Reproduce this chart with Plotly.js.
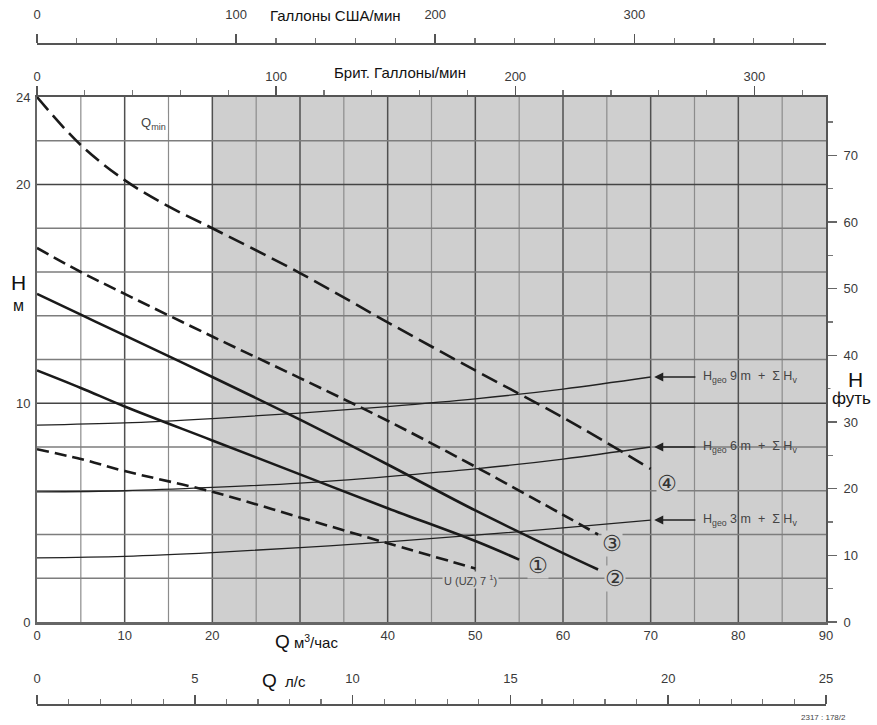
<!DOCTYPE html>
<html><head><meta charset="utf-8">
<script src="https://cdn.plot.ly/plotly-3.0.1.min.js"></script>
<style>html,body{margin:0;padding:0;background:#fff}#chart{width:877px;height:725px}</style>
</head><body><div id="chart"></div>
<script>
// ---- data (Q in m3/h, H in m) ----
const q4 = [0, 5, 10, 15, 20, 30, 40, 50, 60, 70];
const h4 = [24, 21.8, 20.2, 19.0, 18.0, 15.95, 13.7, 11.5, 9.35, 7.0];
const q3 = [0, 5, 10, 20, 30, 40, 50, 60, 64];
const h3 = [17.1, 16.0, 15.0, 13.05, 11.15, 9.2, 7.1, 4.9, 4.0];
const q2 = [0, 5, 10, 20, 30, 40, 50, 60, 64];
const h2 = [15.0, 14.05, 13.1, 11.2, 9.25, 7.2, 5.1, 3.15, 2.4];
const q1 = [0, 5, 10, 20, 30, 40, 50, 55];
const h1 = [11.5, 10.7, 9.85, 8.3, 6.75, 5.2, 3.7, 2.85];
const qU = [0, 5, 10, 20, 30, 40, 50];
const hU = [7.9, 7.45, 6.9, 5.95, 4.78, 3.6, 2.45];
const qSys = [0, 10, 20, 30, 40, 50, 60, 70];
const hGeo9 = [9.0, 9.1, 9.3, 9.55, 9.85, 10.2, 10.65, 11.2];
const hGeo6 = [5.95, 6.0, 6.15, 6.35, 6.65, 7.0, 7.45, 8.0];
const hGeo3 = [2.93, 3.0, 3.17, 3.4, 3.66, 3.97, 4.3, 4.66];
const sysLabels = ['H<sub>geo</sub> 9 m  +  Σ H<sub>v</sub>', 'H<sub>geo</sub> 6 m  +  Σ H<sub>v</sub>', 'H<sub>geo</sub> 3 m  +  Σ H<sub>v</sub>'];
const curveLabels = ['①', '②', '③', '④'];

const xTicks = [0, 10, 20, 40, 50, 60, 70, 80, 90];
const xGridMinor = [5, 15, 25, 35, 45, 55, 65, 75, 85];
const xGridMajor = [10, 20, 30, 40, 50, 60, 70, 80];
const yTicks = [0, 10, 20, 24];
const yGridMinor = [2, 4, 6, 8, 12, 14, 16, 18, 22];
const yGridMajor = [10, 20];
const ftTicks = [0, 10, 20, 30, 40, 50, 60, 70];
const ukTicks = [0, 100, 200, 300];
const usTicks = [0, 100, 200, 300];
const lsTicks = [0, 5, 10, 15, 20, 25];

// ---- layout helpers (pixel -> paper) ----
const L = 37, R = 826, T = 44, B = 705;
const xp = px => (px - L) / (R - L);
const yp = py => (B - py) / (B - T);

const tickFont = {family: 'Liberation Sans Narrow, Liberation Sans, Arial, sans-serif', size: 13, color: '#3a3a3a'};
const blackFont = {family: 'Liberation Sans, Arial, sans-serif', size: 15, color: '#111'};

function perf(x, y, dash) {
  return {x: x, y: y, type: 'scatter', mode: 'lines', line: {color: '#1a1a1a', width: 2.6, dash: dash, shape: 'spline', smoothing: 1}, hoverinfo: 'skip', showlegend: false};
}
function sys(y) {
  return {x: qSys, y: y, type: 'scatter', mode: 'lines', line: {color: '#222', width: 1.3, shape: 'spline', smoothing: 1}, hoverinfo: 'skip', showlegend: false};
}
const traces = [
  perf(q4, h4, '17px,7px'),
  perf(q3, h3, '13px,6px'),
  perf(q2, h2, 'solid'),
  perf(q1, h1, 'solid'),
  perf(qU, hU, '12px,6px'),
  sys(hGeo9), sys(hGeo6), sys(hGeo3)
];

const last = a => a[a.length - 1];
const annotations = [];
const A = (o) => Object.assign({showarrow: false, xanchor: 'center', yanchor: 'middle'}, o);
// system curve arrows & labels
[hGeo9, hGeo6, hGeo3].forEach((h, i) => {
  annotations.push({x: last(qSys) + 0.4, y: last(h), ax: last(qSys) + 5.5, ay: last(h), xref: 'x', yref: 'y', axref: 'x', ayref: 'y', text: ' ', showarrow: true, arrowhead: 2, arrowsize: 1.3, arrowwidth: 1.4, arrowcolor: '#222'});
  annotations.push(A({x: last(qSys) + 5.7, y: last(h), xref: 'x', yref: 'y', text: sysLabels[i], xanchor: 'left', font: {family: 'Liberation Sans, Arial, sans-serif', size: 12.5, color: '#444'}}));
});
// circled curve numbers
const circ = {family: 'DejaVu Sans, sans-serif', size: 22, color: '#333'};
annotations.push(A({x: last(q1) + 2.1, y: last(h1) - 0.25, xref: 'x', yref: 'y', text: curveLabels[0], font: circ, bgcolor: '#cfcfcf', borderpad: 0}));
annotations.push(A({x: last(q2) + 1.9, y: last(h2) - 0.4, xref: 'x', yref: 'y', text: curveLabels[1], font: circ, bgcolor: '#cfcfcf', borderpad: 0}));
annotations.push(A({x: last(q3) + 1.6, y: last(h3) - 0.4, xref: 'x', yref: 'y', text: curveLabels[2], font: circ, bgcolor: '#cfcfcf', borderpad: 0}));
annotations.push(A({x: last(q4) + 1.9, y: last(h4) - 0.65, xref: 'x', yref: 'y', text: curveLabels[3], font: circ, bgcolor: '#cfcfcf', borderpad: 0}));
annotations.push(A({x: last(qU) - 0.6, y: last(hU) - 0.55, xref: 'x', yref: 'y', text: 'U (UZ) 7 <sup>1</sup>)', font: {family: 'Liberation Sans, Arial, sans-serif', size: 11, color: '#444'}, bgcolor: '#cfcfcf', borderpad: 1}));
annotations.push(A({x: 13.3, y: 22.8, xref: 'x', yref: 'y', text: 'Q<sub>min</sub>', font: {family: 'Liberation Sans, Arial, sans-serif', size: 13, color: '#444'}, bgcolor: '#fff'}));
// axis titles
annotations.push(A({x: xp(306), y: yp(641), xref: 'paper', yref: 'paper', text: '<span style="font-size:19px">Q</span> м<sup>3</sup>/час', font: blackFont, bgcolor: '#fff'}));
annotations.push(A({x: xp(284), y: yp(680), xref: 'paper', yref: 'paper', text: '<span style="font-size:19px">Q</span>  л/с', font: blackFont, bgcolor: '#fff'}));
annotations.push(A({x: xp(400), y: yp(73), xref: 'paper', yref: 'paper', text: 'Брит. Галлоны/мин', font: blackFont, bgcolor: '#fff'}));
annotations.push(A({x: xp(335), y: yp(15), xref: 'paper', yref: 'paper', text: 'Галлоны США/мин', font: blackFont, bgcolor: '#fff'}));
annotations.push(A({x: xp(18), y: yp(282), xref: 'paper', yref: 'paper', text: 'H', font: {family: 'Liberation Sans, Arial, sans-serif', size: 21, color: '#111'}}));
annotations.push(A({x: xp(18), y: yp(305), xref: 'paper', yref: 'paper', text: 'м', font: {family: 'Liberation Sans, Arial, sans-serif', size: 16, color: '#111'}}));
annotations.push(A({x: xp(855), y: yp(379), xref: 'paper', yref: 'paper', text: 'H', font: {family: 'Liberation Sans, Arial, sans-serif', size: 21, color: '#111'}}));
annotations.push(A({x: xp(852), y: yp(398), xref: 'paper', yref: 'paper', text: 'футь', font: {family: 'Liberation Sans, Arial, sans-serif', size: 17, color: '#111'}, bgcolor: '#fff'}));
annotations.push(A({x: xp(848), y: yp(717), xref: 'paper', yref: 'paper', text: '2317 : 178/2', xanchor: 'right', font: {family: 'Liberation Sans, Arial, sans-serif', size: 8, color: '#444'}}));

// grid lines (drawn from the grid arrays through the data scales)
const shapes = [{type: 'rect', xref: 'x', yref: 'y', x0: 20, x1: 90, y0: 0, y1: 24, fillcolor: '#cfcfcf', line: {width: 0}, layer: 'below'}];
xGridMinor.forEach(v => shapes.push({type: 'line', xref: 'x', yref: 'y', x0: v, x1: v, y0: 0, y1: 24, line: {color: '#8c8c8c', width: 1.2}, layer: 'below'}));
xGridMajor.forEach(v => shapes.push({type: 'line', xref: 'x', yref: 'y', x0: v, x1: v, y0: 0, y1: 24, line: {color: '#505050', width: 1.5}, layer: 'below'}));
yGridMinor.forEach(v => shapes.push({type: 'line', xref: 'x', yref: 'y', x0: 0, x1: 90, y0: v, y1: v, line: {color: '#7d7d7d', width: 1.3}, layer: 'below'}));
yGridMajor.forEach(v => shapes.push({type: 'line', xref: 'x', yref: 'y', x0: 0, x1: 90, y0: v, y1: v, line: {color: '#444', width: 1.5}, layer: 'below'}));

const layout = {
  width: 877, height: 725,
  margin: {l: L, r: 877 - R, t: T, b: 725 - B, pad: 0},
  paper_bgcolor: '#fff', plot_bgcolor: 'rgba(0,0,0,0)',
  showlegend: false,
  font: tickFont,
  xaxis: {range: [0, 90], tickmode: 'array', tickvals: xTicks, ticks: '', showgrid: false,
          showline: true, linecolor: '#666', linewidth: 2.5, zeroline: false, anchor: 'y', tickfont: tickFont, fixedrange: true},
  yaxis: {range: [0, 24], domain: [yp(622), yp(97)], tickmode: 'array', tickvals: yTicks, ticks: '', showgrid: false,
          showline: true, linecolor: '#666', linewidth: 2, zeroline: false, tickfont: tickFont, ticklabelstandoff: 2, fixedrange: true},
  yaxis2: {overlaying: 'y', side: 'right', range: [0, 24 / 0.3048], tickmode: 'array', tickvals: ftTicks, ticks: 'outside', ticklen: 9, tickwidth: 1.5, tickcolor: '#666',
           minor: {tickmode: 'linear', tick0: 0, dtick: 5, ticks: 'outside', ticklen: 5, tickwidth: 1.2, tickcolor: '#777', showgrid: false},
           showgrid: false, showline: true, linecolor: '#555', linewidth: 2, zeroline: false, tickfont: tickFont, ticklabelstandoff: 4, fixedrange: true},
  xaxis2: {overlaying: 'x', side: 'top', anchor: 'y', range: [0, 90 * 16.6667 / 4.54609], tickmode: 'array', tickvals: ukTicks, ticks: 'outside', ticklen: 9, tickwidth: 1.5, tickcolor: '#555',
           minor: {tickmode: 'linear', tick0: 0, dtick: 20, ticks: 'outside', ticklen: 5, tickwidth: 1.2, tickcolor: '#777', showgrid: false},
           showgrid: false, showline: true, linecolor: '#555', linewidth: 2, zeroline: false, tickfont: tickFont, fixedrange: true},
  xaxis3: {overlaying: 'x', side: 'top', anchor: 'free', position: 1, range: [0, 90 * 16.6667 / 3.78541], tickmode: 'array', tickvals: usTicks, ticks: 'outside', ticklen: 9, tickwidth: 1.5, tickcolor: '#555',
           minor: {tickmode: 'linear', tick0: 0, dtick: 20, ticks: 'outside', ticklen: 5, tickwidth: 1.2, tickcolor: '#777', showgrid: false},
           showgrid: false, showline: true, linecolor: '#555', linewidth: 2, zeroline: false, tickfont: tickFont, ticklabelstandoff: 10, fixedrange: true},
  xaxis4: {overlaying: 'x', side: 'top', anchor: 'free', position: 0, range: [0, 90 / 3.6], tickmode: 'array', tickvals: lsTicks, ticks: 'outside', ticklen: 9, tickwidth: 1.5, tickcolor: '#555',
           minor: {tickmode: 'linear', tick0: 0, dtick: 1, ticks: 'outside', ticklen: 5, tickwidth: 1.2, tickcolor: '#777', showgrid: false},
           showgrid: false, showline: true, linecolor: '#555', linewidth: 2, zeroline: false, tickfont: tickFont, ticklabelstandoff: 7, fixedrange: true},
  shapes: shapes,
  annotations: annotations
};

// invisible traces to activate the extra axes
const dummy = (xa, ya) => ({x: [0], y: [0], xaxis: xa, yaxis: ya, mode: 'markers', marker: {opacity: 0}, hoverinfo: 'skip', showlegend: false});
traces.push(dummy('x2', 'y2'), dummy('x3', 'y'), dummy('x4', 'y'));

Plotly.newPlot('chart', traces, layout, {staticPlot: true, displayModeBar: false});
</script></body></html>
